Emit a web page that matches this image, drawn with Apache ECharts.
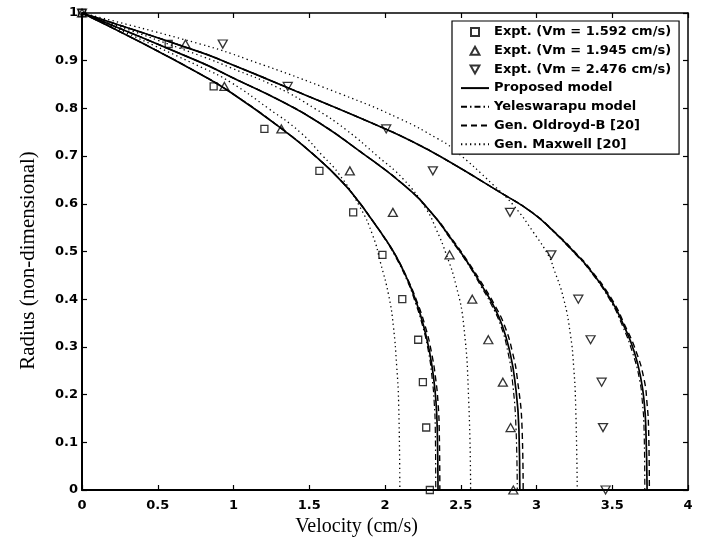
<!DOCTYPE html>
<html>
<head>
<meta charset="utf-8">
<script src="https://cdn.jsdelivr.net/npm/echarts@6/dist/echarts.min.js"></script>
<style>
  html, body { margin: 0; padding: 0; background: #fff; }
  #chart { width: 706px; height: 542px; }
</style>
</head>
<body>
<div id="chart"></div>
<script>
// ---------- Data ----------
// Axis ticks
const xTicks = [0, 0.5, 1, 1.5, 2, 2.5, 3, 3.5, 4];
const yTicks = [0, 0.1, 0.2, 0.3, 0.4, 0.5, 0.6, 0.7, 0.8, 0.9, 1];

// Experimental points: radius (non-dimensional) and velocity (cm/s)
const exptRadius = [1, 0.935, 0.846, 0.757, 0.669, 0.582, 0.493, 0.400, 0.315, 0.226, 0.131, 0];
const expt1592 = [0, 0.572, 0.869, 1.204, 1.567, 1.790, 1.983, 2.114, 2.219, 2.250, 2.272, 2.296];
const expt1945 = [0, 0.683, 0.940, 1.316, 1.768, 2.052, 2.426, 2.576, 2.682, 2.778, 2.829, 2.847];
const expt2476 = [0, 0.929, 1.358, 2.008, 2.316, 2.825, 3.098, 3.276, 3.357, 3.430, 3.439, 3.456];

// Model curves, Vm = 1.592
const radiusA   = [1, 0.935, 0.872, 0.834, 0.757, 0.70, 0.645, 0.603, 0.568, 0.526, 0.49, 0.44, 0.40, 0.344, 0.288, 0.232, 0.183, 0.127, 0];
const proposedA = [0, 0.41, 0.78, 0.98, 1.32, 1.54, 1.72, 1.83, 1.91, 2.003, 2.073, 2.15, 2.20, 2.255, 2.295, 2.322, 2.337, 2.345, 2.35];
const oldroydA  = [0, 0.41, 0.78, 0.98, 1.32, 1.54, 1.72, 1.83, 1.91, 2.003, 2.073, 2.152, 2.205, 2.265, 2.307, 2.335, 2.35, 2.358, 2.362];
const yelesA    = [0, 0.41, 0.78, 0.98, 1.32, 1.54, 1.72, 1.83, 1.91, 2.0, 2.068, 2.145, 2.193, 2.248, 2.288, 2.312, 2.325, 2.332, 2.335];

// Model curves, Vm = 1.945
const radiusB   = [1, 0.897, 0.865, 0.816, 0.771, 0.711, 0.638, 0.58, 0.525, 0.475, 0.428, 0.39, 0.344, 0.288, 0.232, 0.127, 0];
const proposedB = [0, 0.78, 0.99, 1.31, 1.56, 1.83, 2.13, 2.31, 2.44, 2.55, 2.64, 2.71, 2.775, 2.825, 2.856, 2.884, 2.89];
const oldroydB  = [0, 0.78, 0.99, 1.31, 1.56, 1.83, 2.13, 2.31, 2.445, 2.555, 2.65, 2.72, 2.79, 2.842, 2.874, 2.905, 2.912];
const yelesB    = [0, 0.78, 0.99, 1.31, 1.56, 1.83, 2.13, 2.31, 2.435, 2.545, 2.632, 2.70, 2.765, 2.812, 2.84, 2.865, 2.873];

// Model curves, Vm = 2.476
const radiusC   = [1, 0.918, 0.893, 0.844, 0.757, 0.732, 0.70, 0.624, 0.582, 0.54, 0.495, 0.463, 0.40, 0.344, 0.29, 0.232, 0.18, 0.127, 0];
const proposedC = [0, 0.78, 0.98, 1.354, 2.003, 2.17, 2.36, 2.76, 2.97, 3.12, 3.26, 3.35, 3.49, 3.577, 3.645, 3.69, 3.712, 3.722, 3.73];
const oldroydC  = [0, 0.78, 0.98, 1.354, 2.003, 2.17, 2.36, 2.76, 2.97, 3.123, 3.265, 3.355, 3.497, 3.585, 3.658, 3.71, 3.73, 3.74, 3.745];
const yelesC    = [0, 0.78, 0.98, 1.354, 2.003, 2.17, 2.36, 2.76, 2.97, 3.117, 3.255, 3.345, 3.482, 3.568, 3.632, 3.68, 3.70, 3.71, 3.715];

// Generalised Maxwell curves
const maxRadiusA = [1, 0.886, 0.855, 0.80, 0.75, 0.70, 0.665, 0.596, 0.533, 0.477, 0.407, 0.344, 0.26, 0.183, 0];
const maxwellA   = [0, 0.79, 0.98, 1.23, 1.44, 1.59, 1.69, 1.83, 1.92, 1.97, 2.025, 2.055, 2.077, 2.09, 2.098];
const maxRadiusB = [1, 0.907, 0.886, 0.844, 0.799, 0.756, 0.70, 0.652, 0.59, 0.545, 0.498, 0.428, 0.344, 0.183, 0];
const maxwellB   = [0, 0.81, 0.975, 1.29, 1.54, 1.74, 1.95, 2.12, 2.27, 2.34, 2.40, 2.47, 2.52, 2.553, 2.565];
const maxRadiusC = [1, 0.935, 0.903, 0.83, 0.778, 0.736, 0.715, 0.638, 0.596, 0.54, 0.491, 0.463, 0.40, 0.323, 0.26, 0.183, 0];
const maxwellC   = [0, 0.78, 1.09, 1.71, 2.10, 2.35, 2.45, 2.72, 2.85, 2.98, 3.08, 3.115, 3.18, 3.225, 3.245, 3.258, 3.269];

// Legend / series names
const NAME_E1 = 'Expt. (Vm = 1.592 cm/s)';
const NAME_E2 = 'Expt. (Vm = 1.945 cm/s)';
const NAME_E3 = 'Expt. (Vm = 2.476 cm/s)';
const NAME_P = 'Proposed model';
const NAME_Y = 'Yeleswarapu model';
const NAME_O = 'Gen. Oldroyd-B [20]';
const NAME_M = 'Gen. Maxwell [20]';

// ---------- Chart ----------
function pairs(vel, rad) { return vel.map((v, i) => [v, rad[i]]); }

const chart = echarts.init(document.getElementById('chart'), null, { renderer: 'canvas' });

const SANS = 'DejaVu Sans';
const SERIF = 'Liberation Serif';

function lineSeries(name, vel, rad, type, width, z) {
  return {
    name: name, type: 'line', data: pairs(vel, rad),
    xAxisIndex: 0, yAxisIndex: 0,
    symbol: 'none', smooth: 0.5, z: z,
    lineStyle: { color: '#000', width: width, type: type },
    itemStyle: { color: 'rgba(0,0,0,0)', borderWidth: 0 },
    emphasis: { disabled: true }, silent: true
  };
}
function scatterSeries(name, vel, symbol, size) {
  return {
    name: name, type: 'scatter', data: pairs(vel, exptRadius),
    xAxisIndex: 0, yAxisIndex: 0,
    symbol: symbol, symbolSize: size, z: 10, clip: false,
    itemStyle: { color: 'rgba(0,0,0,0)', borderColor: '#000', borderWidth: 1.3 },
    emphasis: { disabled: true }, silent: true
  };
}

const DOT = [1.3, 3.2];
const DASH = [6, 4];
const DASHDOT = [6, 3, 1.5, 3];
const SQUARE = 'path://M0,0 L10,0 L10,10 L0,10 Z';
const TRI_DOWN = 'path://M0,0 L10,0 L5,9 Z';
const TRI_UP = 'path://M5,0 L10,9 L0,9 Z';

const series = [
  lineSeries(NAME_M, maxwellA, maxRadiusA, DOT, 1.3, 3),
  lineSeries(NAME_M, maxwellB, maxRadiusB, DOT, 1.3, 3),
  lineSeries(NAME_M, maxwellC, maxRadiusC, DOT, 1.3, 3),
  lineSeries(NAME_O, oldroydA, radiusA, DASH, 1.4, 4),
  lineSeries(NAME_O, oldroydB, radiusB, DASH, 1.4, 4),
  lineSeries(NAME_O, oldroydC, radiusC, DASH, 1.4, 4),
  lineSeries(NAME_Y, yelesA, radiusA, DASHDOT, 1.2, 4),
  lineSeries(NAME_Y, yelesB, radiusB, DASHDOT, 1.2, 4),
  lineSeries(NAME_Y, yelesC, radiusC, DASHDOT, 1.2, 4),
  lineSeries(NAME_P, proposedA, radiusA, 'solid', 1.7, 5),
  lineSeries(NAME_P, proposedB, radiusB, 'solid', 1.7, 5),
  lineSeries(NAME_P, proposedC, radiusC, 'solid', 1.7, 5),
  scatterSeries(NAME_E1, expt1592, SQUARE, 7),
  scatterSeries(NAME_E2, expt1945, TRI_UP, [9, 8]),
  scatterSeries(NAME_E3, expt2476, TRI_DOWN, [9, 8])
];

const tickLabelStyle = { color: '#000', fontFamily: SANS, fontWeight: 'bold', fontSize: 13 };

const option = {
  animation: false,
  backgroundColor: '#fff',
  grid: { left: 82, right: 18, top: 13, bottom: 51, containLabel: false },
  legend: {
    data: [NAME_E1, NAME_E2, NAME_E3, NAME_P, NAME_Y, NAME_O, NAME_M],
    orient: 'vertical',
    left: 452, top: 21,
    padding: [4, 8, 3, 8],
    itemWidth: 28, itemHeight: 8, itemGap: 4.7,
    backgroundColor: '#fff',
    borderColor: '#000', borderWidth: 1.2, borderRadius: 0,
    selectedMode: false,
    textStyle: { color: '#000', fontFamily: SANS, fontWeight: 'bold', fontSize: 13, lineHeight: 14 },
    z: 20
  },
  xAxis: [
    {
      type: 'value', min: xTicks[0], max: xTicks[xTicks.length - 1], interval: xTicks[1] - xTicks[0],
      position: 'bottom',
      name: 'Velocity (cm/s)', nameLocation: 'middle', nameGap: 27,
      nameTextStyle: { color: '#000', fontFamily: SERIF, fontSize: 20, padding: [0, 57, 0, 0] },
      axisLine: { show: true, onZero: false, lineStyle: { color: '#000', width: 2 } },
      axisTick: { show: true, inside: true, length: 5, lineStyle: { color: '#000', width: 1.2 } },
      axisLabel: Object.assign({ margin: 9 }, tickLabelStyle),
      splitLine: { show: false }
    },
    {
      type: 'value', min: xTicks[0], max: xTicks[xTicks.length - 1], interval: xTicks[1] - xTicks[0],
      position: 'top',
      axisLine: { show: true, onZero: false, lineStyle: { color: '#000', width: 1.5 } },
      axisTick: { show: true, inside: true, length: 5, lineStyle: { color: '#000', width: 1.2 } },
      axisLabel: { show: false },
      splitLine: { show: false }
    }
  ],
  yAxis: [
    {
      type: 'value', min: yTicks[0], max: yTicks[yTicks.length - 1], interval: 0.1,
      position: 'left',
      name: 'Radius (non-dimensional)', nameLocation: 'middle', nameGap: 43,
      nameTextStyle: { color: '#000', fontFamily: SERIF, fontSize: 21, padding: [0, 18, 0, 0] },
      axisLine: { show: true, onZero: false, lineStyle: { color: '#000', width: 2 } },
      axisTick: { show: true, inside: true, length: 5, lineStyle: { color: '#000', width: 1.2 } },
      axisLabel: Object.assign({ margin: 4 }, tickLabelStyle),
      splitLine: { show: false }
    },
    {
      type: 'value', min: yTicks[0], max: yTicks[yTicks.length - 1], interval: 0.1,
      position: 'right',
      axisLine: { show: true, onZero: false, lineStyle: { color: '#000', width: 1.5 } },
      axisTick: { show: true, inside: true, length: 5, lineStyle: { color: '#000', width: 1.2 } },
      axisLabel: { show: false },
      splitLine: { show: false }
    }
  ],
  series: series
};

chart.setOption(option);
</script>
</body>
</html>
